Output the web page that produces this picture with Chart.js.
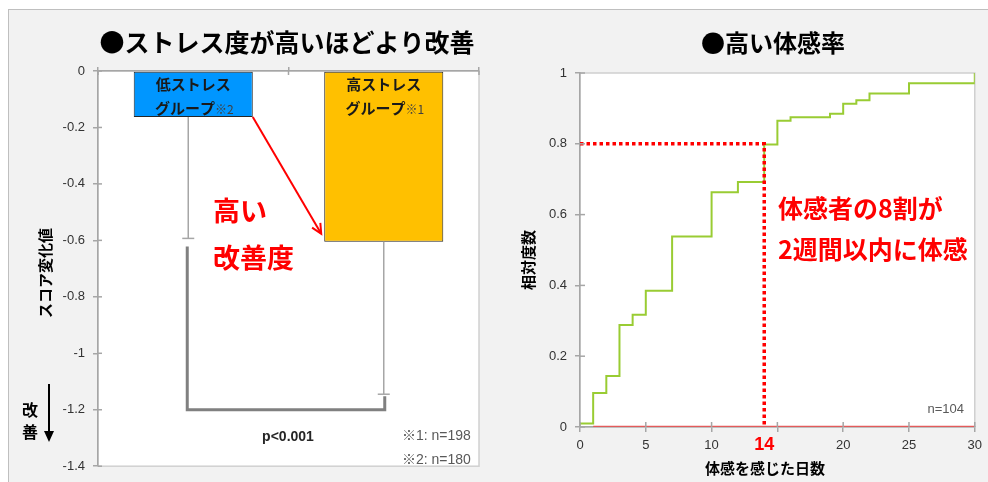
<!DOCTYPE html>
<html lang="ja">
<head>
<meta charset="UTF-8">
<title>ストレス度と体感率</title>
<script src="https://cdn.jsdelivr.net/npm/chart.js"></script>
<style>
    body { margin: 0; width: 988px; height: 482px; background: #fff; position: relative; overflow: hidden; }
    #panel { position: absolute; left: 8px; top: 9px; width: 980px; height: 473px; background: #f2f2f2;
             border-top: 1px solid #bfbfbf; border-left: 1px solid #bfbfbf; box-sizing: border-box; }
    canvas { position: absolute; top: 0; }
    #left { left: 0; }
    #right { left: 494px; }
</style>
</head>
<body>
<div id="panel"></div>
<canvas id="left" width="494" height="482"></canvas>
<canvas id="right" width="494" height="482"></canvas>
<script>
// left chart: score change by stress group
var groups = ['低ストレスグループ', '高ストレスグループ'];
var groupLine1 = ['低ストレス', '高ストレス'];
var groupLine2 = ['グループ', 'グループ'];
var groupNote = ['※2', '※1'];
var scoreChange = [-0.163, -0.605];
var scoreError = [0.43, 0.54];
var bracketLevel = -1.2;
var sampleNotes = ['※1: n=198', '※2: n=180'];

// right chart: cumulative share by day of first feeling
var days = [0, 1, 2, 3, 4, 5, 7, 10, 12, 14, 15, 16, 19, 20, 21, 22, 25, 30];
var ratio = [0.01, 0.096, 0.144, 0.288, 0.317, 0.385, 0.538, 0.663, 0.692, 0.798,
             0.865, 0.875, 0.885, 0.913, 0.923, 0.942, 0.971, 1.0];
var guideDays = [0, 14, 14];
var guideRatio = [0.8, 0.8, 0];
var baseDays = [1, 30];
var baseRatio = [0, 0];
var markDay = 14;

var JP = "'Noto Sans CJK JP', sans-serif";
var NUM = "'Liberation Sans', 'Noto Sans CJK JP', sans-serif";
var tickFont = { family: 'Liberation Sans', size: 13 };

function fmt(v) { return String(+v.toFixed(1)); }

function txt(ctx, s, x, y, font, color, align) {
    ctx.font = font;
    ctx.fillStyle = color;
    ctx.textAlign = align || 'center';
    ctx.textBaseline = 'middle';
    ctx.fillText(s, x, y);
}

function vtxt(ctx, s, x, y, font) {
    ctx.save();
    ctx.translate(x, y);
    ctx.rotate(-Math.PI / 2);
    txt(ctx, s, 0, 0, font, '#000');
    ctx.restore();
}

function line(ctx, x1, y1, x2, y2, color, w) {
    ctx.beginPath();
    ctx.moveTo(x1, y1);
    ctx.lineTo(x2, y2);
    ctx.strokeStyle = color;
    ctx.lineWidth = w;
    ctx.stroke();
}

var plotBack = {
    id: 'plotBack',
    beforeDraw: function(chart) {
        var a = chart.chartArea, ctx = chart.ctx;
        ctx.save();
        ctx.fillStyle = '#fff';
        ctx.fillRect(a.left, a.top, a.right - a.left, a.bottom - a.top);
        ctx.strokeStyle = '#d0d0d0';
        ctx.lineWidth = 1.5;
        ctx.strokeRect(a.left, a.top, a.right - a.left, a.bottom - a.top);
        ctx.restore();
    }
};

var leftDecor = {
    id: 'leftDecor',
    afterDatasetsDraw: function(chart) {
        var ctx = chart.ctx, a = chart.chartArea, ys = chart.scales.y;
        var bars = chart.getDatasetMeta(0).data;
        ctx.save();
        // inner tick stubs
        ys.ticks.forEach(function(t) {
            var py = ys.getPixelForValue(t.value);
            line(ctx, a.left, py, a.left + 4, py, '#a6a6a6', 1.5);
        });
        [a.left, (bars[0].x + bars[1].x) / 2, a.right].forEach(function(px) {
            line(ctx, px, a.top, px, a.top + 4, '#a6a6a6', 1.5);
        });
        // error bars
        var ends = [];
        bars.forEach(function(b, i) {
            var y0 = ys.getPixelForValue(scoreChange[i]);
            var y1 = ys.getPixelForValue(scoreChange[i] - scoreError[i]);
            var x = i === 0 ? b.x - 5 : b.x;
            line(ctx, x, y0, x, y1, '#a6a6a6', 1.5);
            line(ctx, x - 6, y1, x + 6, y1, '#a6a6a6', 1.5);
            ends.push({ x: x, y: y1 });
        });
        // significance bracket
        var by = ys.getPixelForValue(bracketLevel);
        ctx.beginPath();
        ctx.moveTo(ends[0].x - 1, ends[0].y + 8);
        ctx.lineTo(ends[0].x - 1, by);
        ctx.lineTo(ends[1].x + 1, by);
        ctx.lineTo(ends[1].x + 1, ends[1].y + 2);
        ctx.strokeStyle = '#808080';
        ctx.lineWidth = 3;
        ctx.stroke();
        // red arrow between bars
        var sx = bars[0].x + bars[0].width / 2, sy = bars[0].y;
        var ex = bars[1].x - bars[1].width / 2 - 3, ey = ys.getPixelForValue(scoreChange[1]) - 8;
        line(ctx, sx, sy, ex, ey, '#ff0000', 2);
        var ang = Math.atan2(ey - sy, ex - sx);
        ctx.beginPath();
        ctx.moveTo(ex - 11 * Math.cos(ang - 0.45), ey - 11 * Math.sin(ang - 0.45));
        ctx.lineTo(ex, ey);
        ctx.lineTo(ex - 11 * Math.cos(ang + 0.45), ey - 11 * Math.sin(ang + 0.45));
        ctx.stroke();
        // bar labels
        bars.forEach(function(b, i) {
            txt(ctx, groupLine1[i], b.x, a.top + 13, 'bold 15px ' + JP, '#1a1a1a');
            ctx.font = 'bold 15px ' + JP;
            var w1 = ctx.measureText(groupLine2[i]).width;
            ctx.font = '12px ' + JP;
            var w2 = ctx.measureText(groupNote[i]).width;
            var x0 = b.x - (w1 + w2) / 2 + 1;
            txt(ctx, groupLine2[i], x0, a.top + 37, 'bold 15px ' + JP, '#1a1a1a', 'left');
            txt(ctx, groupNote[i], x0 + w1, a.top + 38, '12px ' + JP, '#404040', 'left');
        });
        // red message
        txt(ctx, '高い', 213, 211, 'bold 27px ' + JP, '#ff0000', 'left');
        txt(ctx, '改善度', 213, 258, 'bold 27px ' + JP, '#ff0000', 'left');
        // p value and sample sizes
        txt(ctx, 'p<0.001', 288, 437, 'bold 14px ' + NUM, '#262626');
        txt(ctx, sampleNotes[0], 402, 436, '14px ' + NUM, '#595959', 'left');
        txt(ctx, sampleNotes[1], 402, 460, '14px ' + NUM, '#595959', 'left');
        // title, axis title and direction mark
        txt(ctx, '●ストレス度が高いほどより改善', 287, 42, 'bold 25px ' + JP, '#000');
        vtxt(ctx, 'スコア変化値', 45, 273, 'bold 15px ' + JP);
        txt(ctx, '改', 30, 410, 'bold 16px ' + JP, '#000');
        txt(ctx, '善', 30, 432, 'bold 16px ' + JP, '#000');
        line(ctx, 49, 384, 49, 432, '#000', 2);
        ctx.beginPath();
        ctx.moveTo(44, 431);
        ctx.lineTo(54, 431);
        ctx.lineTo(49, 442);
        ctx.closePath();
        ctx.fillStyle = '#000';
        ctx.fill();
        ctx.restore();
    }
};

new Chart(document.getElementById('left'), {
    type: 'bar',
    data: {
        labels: groups,
        datasets: [{
            data: scoreChange,
            backgroundColor: ['#0096ff', '#ffc000'],
            borderColor: '#262626',
            borderWidth: 1,
            borderSkipped: false,
            barPercentage: 0.625,
            categoryPercentage: 1
        }]
    },
    options: {
        responsive: false,
        animation: false,
        layout: { padding: { left: 0, right: 15, top: 0, bottom: 7 } },
        plugins: { legend: { display: false }, tooltip: { enabled: false } },
        scales: {
            x: {
                position: 'top',
                ticks: { display: false },
                grid: { offset: true, drawOnChartArea: false, tickLength: 4, color: '#a6a6a6', lineWidth: 1.5 },
                border: { color: '#a6a6a6', width: 1.5 },
                afterFit: function(s) { s.height = 71; }
            },
            y: {
                min: -1.4,
                max: 0,
                ticks: { stepSize: 0.2, padding: 8, color: '#333', font: tickFont, callback: fmt },
                grid: { drawOnChartArea: false, tickLength: 5, color: '#a6a6a6', lineWidth: 1.5 },
                border: { color: '#a6a6a6', width: 1.5 },
                afterFit: function(s) { s.width = 98; }
            }
        }
    },
    plugins: [plotBack, leftDecor]
});

var rightDecor = {
    id: 'rightDecor',
    afterDraw: function(chart) {
        var ctx = chart.ctx, a = chart.chartArea, xs = chart.scales.x, ys = chart.scales.y;
        ctx.save();
        ys.ticks.forEach(function(t) {
            var py = ys.getPixelForValue(t.value);
            line(ctx, a.left, py, a.left + 5, py, '#a6a6a6', 1.5);
        });
        xs.ticks.forEach(function(t) {
            var px = xs.getPixelForValue(t.value);
            line(ctx, px, a.bottom - 5, px, a.bottom, '#a6a6a6', 1.5);
        });
        txt(ctx, String(markDay), xs.getPixelForValue(markDay), 445, 'bold 18px ' + NUM, '#ff0000');
        txt(ctx, '体感者の8割が', 284, 208, 'bold 25px ' + JP, '#ff0000', 'left');
        txt(ctx, '2週間以内に体感', 284, 249, 'bold 25px ' + JP, '#ff0000', 'left');
        txt(ctx, 'n=104', 470, 409, '13px ' + NUM, '#595959', 'right');
        txt(ctx, '●高い体感率', 279, 43, 'bold 24px ' + JP, '#000');
        vtxt(ctx, '相対度数', 34, 260, 'bold 15px ' + JP);
        txt(ctx, '体感を感じた日数', 271, 468, 'bold 15px ' + JP, '#000');
        ctx.restore();
    }
};

function pts(xs, ys) {
    return xs.map(function(x, i) { return { x: x, y: ys[i] }; });
}

new Chart(document.getElementById('right'), {
    type: 'line',
    data: {
        datasets: [
            { data: pts(baseDays, baseRatio), borderColor: '#e35b5b', borderWidth: 2.5, pointRadius: 0, order: 3 },
            { data: pts(days, ratio), stepped: true, borderColor: '#99cc33', borderWidth: 2, pointRadius: 0, order: 2 },
            { data: pts(guideDays, guideRatio), borderColor: '#ff0000', borderWidth: 3.5, borderDash: [3.5, 3], pointRadius: 0, order: 1 }
        ]
    },
    options: {
        responsive: false,
        animation: false,
        layout: { padding: { left: 0, right: 7, top: 73, bottom: 0 } },
        plugins: { legend: { display: false }, tooltip: { enabled: false } },
        scales: {
            x: {
                type: 'linear',
                min: 0,
                max: 30,
                ticks: { stepSize: 5, padding: 6, color: '#333', font: tickFont,
                         callback: function(v) { return v === 15 ? '' : v; } },
                grid: { drawOnChartArea: false, tickLength: 5, color: '#a6a6a6', lineWidth: 1.5 },
                border: { color: '#a6a6a6', width: 1.5 },
                afterFit: function(s) { s.height = 55; }
            },
            y: {
                min: 0,
                max: 1,
                ticks: { stepSize: 0.2, padding: 8, color: '#333', font: tickFont, callback: fmt },
                grid: { drawOnChartArea: false, tickLength: 5, color: '#a6a6a6', lineWidth: 1.5 },
                border: { color: '#a6a6a6', width: 1.5 },
                afterFit: function(s) { s.width = 86; }
            }
        }
    },
    plugins: [plotBack, rightDecor]
});
</script>
</body>
</html>
